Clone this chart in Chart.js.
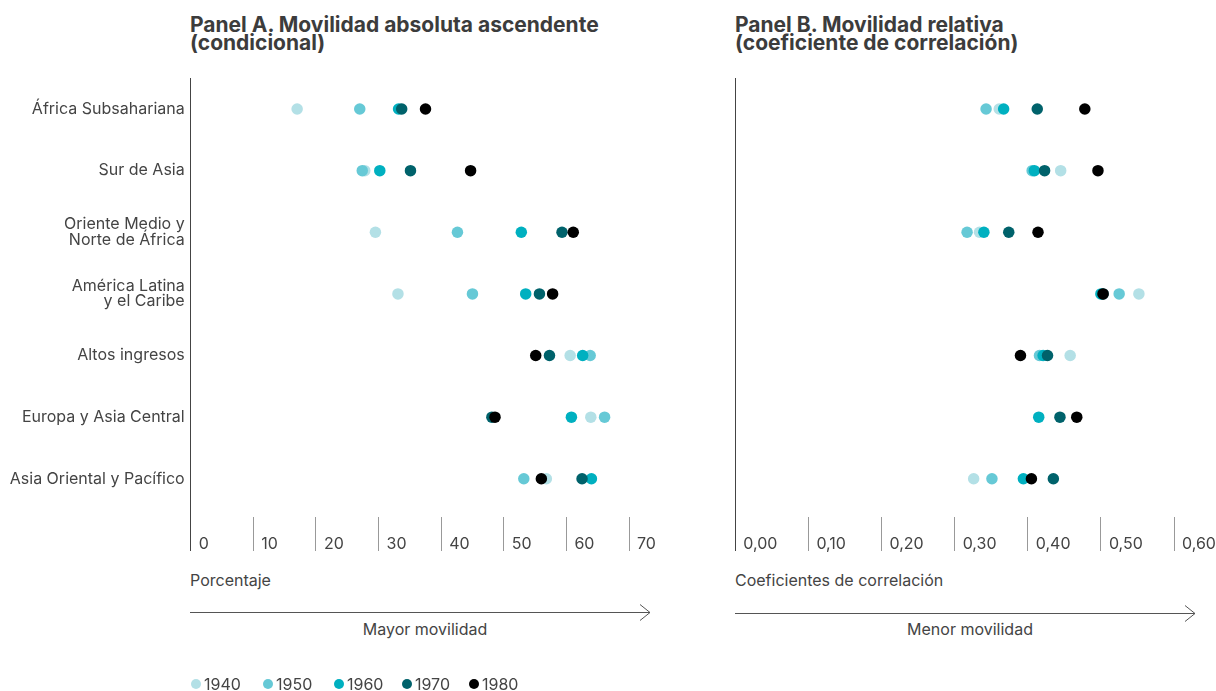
<!DOCTYPE html>
<html>
<head>
<meta charset="utf-8">
<script src="https://cdn.jsdelivr.net/npm/chart.js@4.4.1/dist/chart.umd.min.js"></script>
<style>
  html, body { margin:0; padding:0; background:#fff; }
  body { width:1216px; height:691px; position:relative; overflow:hidden;
         font-family: Inter, "Liberation Sans", Arial, sans-serif; color:#444; }
  canvas { position:absolute; top:0; }
  .title { position:absolute; top:15.5px; font-weight:700; font-size:21px; line-height:18px; color:#3c3c3c; white-space:nowrap; }
  .lbl { position:absolute; font-size:16px; color:#444; white-space:nowrap; line-height:20px; }
  .legend { position:absolute; left:191px; top:674px; font-size:16px; color:#444; display:flex; }
  .legend span.item { display:inline-flex; align-items:center; margin-right:0; }
  .legend i { display:inline-block; width:10px; height:10px; border-radius:50%; margin-right:3px; }
  svg { position:absolute; left:0; top:0; }
</style>
</head>
<body>
<div class="title" style="left:190px">Panel A. Movilidad absoluta ascendente<br>(condicional)</div>
<div class="title" style="left:735px">Panel B. Movilidad relativa<br>(coeficiente de correlación)</div>

<canvas id="chartA" width="680" height="560" style="left:0"></canvas>
<canvas id="chartB" width="536" height="560" style="left:680px"></canvas>

<div class="lbl" style="left:190px; top:570px">Porcentaje</div>
<div class="lbl" style="left:735px; top:570px">Coeficientes de correlación</div>
<div class="lbl" style="left:425px; top:619px; transform:translateX(-50%)">Mayor movilidad</div>
<div class="lbl" style="left:970px; top:619px; transform:translateX(-50%)">Menor movilidad</div>

<svg width="1216" height="691">
  <g stroke="#555" stroke-width="1" fill="none">
    <line x1="190" y1="612.5" x2="650" y2="612.5"/>
    <polyline points="640,604.5 650,612.5 640,620.5"/>
    <line x1="735" y1="613.5" x2="1195" y2="613.5"/>
    <polyline points="1185,605.5 1195,613.5 1185,621.5"/>
  </g>
</svg>

<div class="legend" id="legend"></div>

<script>
// ---- data ----
const categories = [
  'África Subsahariana',
  'Sur de Asia',
  ['Oriente Medio y', 'Norte de África'],
  ['América Latina', 'y el Caribe'],
  'Altos ingresos',
  'Europa y Asia Central',
  'Asia Oriental y Pacífico'
];
const decades = ['1940', '1950', '1960', '1970', '1980'];

// Panel A: movilidad absoluta ascendente (%)
const a1940 = [17.0, 27.8, 29.5, 33.1, 60.6, 63.9, 56.8];
const a1950 = [27.0, 27.4, 42.6, 45.0, 63.8, 66.1, 53.2];
const a1960 = [33.2, 30.2, 52.8, 53.5, 62.6, 60.8, 64.0];
const a1970 = [33.7, 35.1, 59.3, 55.7, 57.3, 48.1, 62.5];
const a1980 = [37.5, 44.7, 61.1, 57.8, 55.1, 48.6, 56.0];

// Panel B: coeficiente de correlación
const b1940 = [0.361, 0.445, 0.334, 0.552, 0.458, null, 0.326];
const b1950 = [0.343, 0.406, 0.317, 0.525, 0.416, null, 0.351];
const b1960 = [0.367, 0.409, 0.340, 0.500, 0.421, 0.415, 0.394];
const b1970 = [0.413, 0.423, 0.374, 0.503, 0.427, 0.444, 0.435];
const b1980 = [0.478, 0.496, 0.414, 0.503, 0.390, 0.467, 0.405];

const ticksA = [0, 10, 20, 30, 40, 50, 60, 70];
const ticksB = [0, 0.1, 0.2, 0.3, 0.4, 0.5, 0.6];

const colors = ['#b3e0e6', '#66c9d6', '#00b0c0', '#00626b', '#000000'];

// ---- build ----
const FONT = 'Inter, "Liberation Sans", Arial, sans-serif';
Chart.defaults.font.family = FONT;
Chart.defaults.color = '#444';

function makeDatasets(series) {
  return series.map((vals, k) => ({
    label: decades[k],
    data: vals.map((v, i) => (v === null ? null : { x: v, y: i })).filter(p => p !== null),
    backgroundColor: colors[k],
    borderWidth: 0,
    pointRadius: 5.75,
    pointHoverRadius: 5.75,
    order: series.length - k
  }));
}

function makeOptions(cfg) {
  return {
    responsive: false,
    animation: false,
    events: [],
    devicePixelRatio: 1,
    layout: { padding: { left: 0, top: 78.2, right: cfg.padRight, bottom: 0 } },
    plugins: { legend: { display: false }, tooltip: { enabled: false } },
    scales: {
      x: {
        type: 'linear',
        min: cfg.ticks[0],
        max: cfg.ticks[cfg.ticks.length - 1],
        afterBuildTicks: s => { s.ticks = cfg.ticks.map(v => ({ value: v })); },
        border: { display: false },
        grid: {
          display: true,
          drawOnChartArea: false,
          drawTicks: true,
          tickLength: 34,
          tickWidth: 1,
          tickColor: ctx => (ctx.index === 0 ? '#444' : '#999'),
          color: ctx => (ctx.index === 0 ? '#444' : '#999')
        },
        ticks: {
          align: 'start',
          labelOffset: 8,
          padding: -16,
          autoSkip: false,
          maxRotation: 0,
          color: '#444',
          font: { size: 16, family: FONT },
          callback: cfg.fmt
        },
        afterFit: s => { s.paddingLeft = 0; s.paddingRight = 0; s.height = 43; }
      },
      y: {
        type: 'linear',
        reverse: true,
        min: -0.5,
        max: 6.62,
        afterBuildTicks: s => { s.ticks = categories.map((c, i) => ({ value: i })); },
        border: { display: true, color: '#444', width: 1 },
        grid: { display: true, drawOnChartArea: false, drawTicks: false },
        ticks: {
          display: cfg.showY,
          padding: 6,
          color: '#444',
          font: { size: 16, family: FONT, lineHeight: 0.95 },
          callback: v => categories[v]
        },
        afterFit: s => { s.width = cfg.yWidth; s.paddingTop = 0; s.paddingBottom = 0; }
      }
    }
  };
}

new Chart(document.getElementById('chartA'), {
  type: 'scatter',
  data: { datasets: makeDatasets([a1940, a1950, a1960, a1970, a1980]) },
  options: makeOptions({
    ticks: ticksA, padRight: 680 - 629, yWidth: 190.7, showY: true,
    fmt: v => String(v)
  })
});

new Chart(document.getElementById('chartB'), {
  type: 'scatter',
  data: { datasets: makeDatasets([b1940, b1950, b1960, b1970, b1980]) },
  options: makeOptions({
    ticks: ticksB, padRight: 1216 - 1174, yWidth: 735.3 - 680, showY: false,
    fmt: v => Number(v).toFixed(2).replace('.', ',')
  })
});

// legend
const lg = document.getElementById('legend');
const legendX = [0, 72, 143, 211, 278];
decades.forEach((d, k) => {
  const s = document.createElement('span');
  s.className = 'item';
  s.style.position = 'absolute';
  s.style.left = legendX[k] + 'px';
  s.innerHTML = '<i style="background:' + colors[k] + '"></i>' + d;
  lg.appendChild(s);
});
</script>
</body>
</html>
